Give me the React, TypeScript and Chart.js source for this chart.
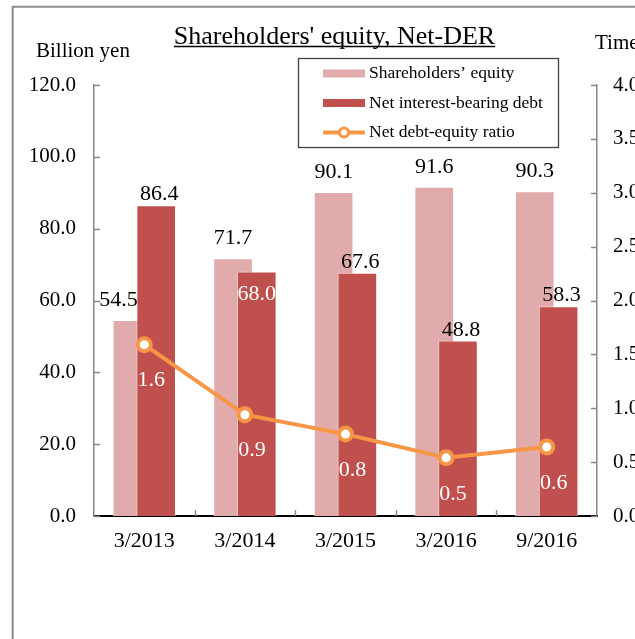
import React, { useEffect, useRef } from "react";
import { Chart, registerables } from "chart.js";

Chart.register(...registerables);

// ---- data ----
const categories = ["3/2013", "3/2014", "3/2015", "3/2016", "9/2016"];
const equity = [54.5, 71.7, 90.1, 91.6, 90.3];
const netDebt = [86.4, 68.0, 67.6, 48.8, 58.3];
const derRatio = [1.59, 0.94, 0.76, 0.54, 0.64];
const leftRange = [0, 120];
const leftStep = 20;
const rightRange = [0, 4];
const rightStep = 0.5;

const TITLE = "Shareholders' equity, Net-DER";
const LEFT_TITLE = "Billion yen";
const RIGHT_TITLE = "Times";
const SERIES = ["Shareholders’ equity", "Net interest-bearing debt", "Net debt-equity ratio"];

// ---- style ----
const W = 700;
const H = 639;
const FONT = '"Liberation Serif", "Times New Roman", serif';
const PINK = "#E2ABAB";
const RED = "#C0504D";
const ORANGE = "#F79646";
const AXIS_GRAY = "#868686";
const BAR_SHIFT = 0.118; // fraction of a category width
const BAR_W = 39;

const decor = {
  id: "decor",
  beforeDraw(chart: any) {
    const ctx = chart.ctx;
    ctx.save();
    ctx.fillStyle = "#fff";
    ctx.fillRect(0, 0, W, H);
    ctx.strokeStyle = "#8c8c8c";
    ctx.lineWidth = 2;
    ctx.beginPath();
    ctx.moveTo(12.7, H + 10);
    ctx.lineTo(12.7, 6.7);
    ctx.lineTo(W + 10, 6.7);
    ctx.stroke();
    ctx.restore();
  },
  afterDraw(chart: any) {
    const ctx = chart.ctx;
    const { left, right, bottom } = chart.chartArea;
    const y = chart.scales.y;
    const y1 = chart.scales.y1;
    const xb = chart.scales.xb;
    ctx.save();
    // inward tick marks
    ctx.strokeStyle = AXIS_GRAY;
    ctx.lineWidth = 1.3;
    ctx.beginPath();
    y.ticks.forEach((t: any) => {
      const p = Math.round(y.getPixelForValue(t.value)) + 0.5;
      ctx.moveTo(left, p);
      ctx.lineTo(left + 6, p);
    });
    y1.ticks.forEach((t: any) => {
      const p = Math.round(y1.getPixelForValue(t.value)) + 0.5;
      ctx.moveTo(right, p);
      ctx.lineTo(right - 6, p);
    });
    for (let i = 0; i < categories.length - 1; i++) {
      const px = Math.round(xb.getPixelForValue(i + 0.5)) + 0.5;
      ctx.moveTo(px, bottom);
      ctx.lineTo(px, bottom - 6);
    }
    ctx.stroke();

    // title with underline
    ctx.fillStyle = "#000";
    ctx.font = `26px ${FONT}`;
    ctx.textAlign = "center";
    ctx.textBaseline = "alphabetic";
    const tx = 334.5;
    ctx.fillText(TITLE, tx, 43.5);
    const tw = ctx.measureText(TITLE).width;
    ctx.strokeStyle = "#000";
    ctx.lineWidth = 1.5;
    ctx.beginPath();
    ctx.moveTo(tx - tw / 2, 46.5);
    ctx.lineTo(tx + tw / 2, 46.5);
    ctx.stroke();

    // axis titles
    ctx.font = `21px ${FONT}`;
    ctx.textAlign = "left";
    ctx.fillText(LEFT_TITLE, 36, 57);
    ctx.fillText(RIGHT_TITLE, 595, 48.5);

    // legend
    ctx.fillStyle = "#fff";
    ctx.fillRect(298.5, 58.5, 260, 89);
    ctx.strokeStyle = "#404040";
    ctx.lineWidth = 1.3;
    ctx.strokeRect(298.5, 58.5, 260, 89);
    const rows = [73.5, 103, 132.5];
    const colors = [PINK, RED, ORANGE];
    ctx.font = `17.5px ${FONT}`;
    ctx.textBaseline = "middle";
    rows.forEach((ry, i) => {
      if (i < 2) {
        ctx.fillStyle = colors[i];
        ctx.fillRect(323, ry - 4, 42, 8);
      } else {
        ctx.strokeStyle = ORANGE;
        ctx.lineWidth = 4;
        ctx.beginPath();
        ctx.moveTo(323, ry);
        ctx.lineTo(365, ry);
        ctx.stroke();
        ctx.fillStyle = "#fff";
        ctx.lineWidth = 3;
        ctx.beginPath();
        ctx.arc(344, ry, 4.5, 0, Math.PI * 2);
        ctx.fill();
        ctx.stroke();
      }
      ctx.fillStyle = "#000";
      ctx.fillText(SERIES[i], 369, ry);
    });
    ctx.restore();
  },
};

const valueLabels = {
  id: "valueLabels",
  afterDatasetsDraw(chart: any) {
    const ctx = chart.ctx;
    const eqMeta = chart.getDatasetMeta(0);
    const debtMeta = chart.getDatasetMeta(1);
    const lineMeta = chart.getDatasetMeta(2);
    ctx.save();
    ctx.font = `22px ${FONT}`;
    ctx.textBaseline = "middle";
    equity.forEach((v, i) => {
      const el = eqMeta.data[i];
      const d = debtMeta.data[i];
      const text = v.toFixed(1);
      const ly = el.y - 20;
      ctx.fillStyle = "#000";
      if (netDebt[i] > v) {
        ctx.textAlign = "right";
        ctx.fillText(text, d.x - d.width / 2 + 1, ly);
      } else {
        ctx.textAlign = "center";
        ctx.fillText(text, el.x, ly);
      }
    });
    netDebt.forEach((v, i) => {
      const el = debtMeta.data[i];
      const text = v.toFixed(1);
      ctx.textAlign = "center";
      if (Math.abs(equity[i] - v) < 6) {
        ctx.fillStyle = "#fff";
        ctx.fillText(text, el.x, el.y + 22);
      } else {
        ctx.fillStyle = "#000";
        ctx.fillText(text, el.x + 3, el.y - 11);
      }
    });
    derRatio.forEach((v, i) => {
      const el = lineMeta.data[i];
      ctx.fillStyle = "#fff";
      ctx.textAlign = "center";
      ctx.fillText(v.toFixed(1), el.x + 7, el.y + 36);
    });
    ctx.restore();
  },
};

export default function App() {
  const ref = useRef<HTMLCanvasElement | null>(null);

  useEffect(() => {
    if (!ref.current) return;
    const chart = new Chart(ref.current, {
      type: "bar",
      data: {
        labels: categories,
        datasets: [
          {
            type: "bar",
            label: SERIES[0],
            data: equity.map((v, i) => ({ x: i - BAR_SHIFT, y: v })) as any,
            backgroundColor: PINK,
            borderColor: "rgba(255,255,255,0.55)",
            borderWidth: 1,
            barThickness: BAR_W,
            grouped: false,
            xAxisID: "xb",
            yAxisID: "y",
            order: 2,
          } as any,
          {
            type: "bar",
            label: SERIES[1],
            data: netDebt.map((v, i) => ({ x: i + BAR_SHIFT, y: v })) as any,
            backgroundColor: RED,
            borderColor: "rgba(255,255,255,0.45)",
            borderWidth: 1,
            barThickness: BAR_W,
            grouped: false,
            xAxisID: "xb",
            yAxisID: "y",
            order: 1,
          } as any,
          {
            type: "line",
            label: SERIES[2],
            data: derRatio,
            borderColor: ORANGE,
            borderWidth: 4,
            pointRadius: 6.5,
            pointBorderWidth: 4,
            pointBackgroundColor: "#fff",
            pointBorderColor: ORANGE,
            tension: 0,
            xAxisID: "x",
            yAxisID: "y1",
            order: 0,
          } as any,
        ],
      },
      options: {
        responsive: false,
        devicePixelRatio: 1,
        animation: false,
        layout: { padding: { top: 85, bottom: 63, left: 0, right: 0 } },
        plugins: {
          legend: { display: false },
          title: { display: false },
          tooltip: { enabled: false },
        },
        scales: {
          x: {
            type: "category",
            position: "bottom",
            offset: true,
            grid: { display: false, drawTicks: false, tickLength: 0 },
            border: { display: true, color: "#000", width: 2 },
            ticks: { color: "#000", font: { family: FONT, size: 22 }, padding: 12, maxRotation: 0 },
            afterFit: (s: any) => {
              s.height = 60;
            },
          },
          xb: {
            type: "linear",
            axis: "x",
            position: "bottom",
            display: false,
            offset: false,
            grid: { offset: false },
            min: -0.5,
            max: categories.length - 0.5,
          },
          y: {
            type: "linear",
            position: "left",
            min: leftRange[0],
            max: leftRange[1],
            grid: { display: false, drawTicks: false, tickLength: 0 },
            border: { display: true, color: AXIS_GRAY, width: 1.5 },
            ticks: {
              stepSize: leftStep,
              color: "#000",
              font: { family: FONT, size: 21 },
              padding: 18,
              callback: (v: any) => Number(v).toFixed(1),
            },
            afterFit: (s: any) => {
              s.width = 94;
            },
          },
          y1: {
            type: "linear",
            position: "right",
            min: rightRange[0],
            max: rightRange[1],
            grid: { display: false, drawTicks: false, tickLength: 0 },
            border: { display: true, color: AXIS_GRAY, width: 1.5 },
            ticks: {
              stepSize: rightStep,
              color: "#000",
              font: { family: FONT, size: 21 },
              padding: 16,
              callback: (v: any) => Number(v).toFixed(1),
            },
            afterFit: (s: any) => {
              s.width = W - 597;
            },
          },
        },
      } as any,
      plugins: [decor, valueLabels],
    });
    return () => chart.destroy();
  }, []);

  return (
    <div
      style={{
        position: "fixed",
        left: 0,
        top: 0,
        width: 635,
        height: 639,
        overflow: "hidden",
        background: "#fff",
      }}
    >
      <canvas ref={ref} width={W} height={H} style={{ display: "block" }} />
    </div>
  );
}
